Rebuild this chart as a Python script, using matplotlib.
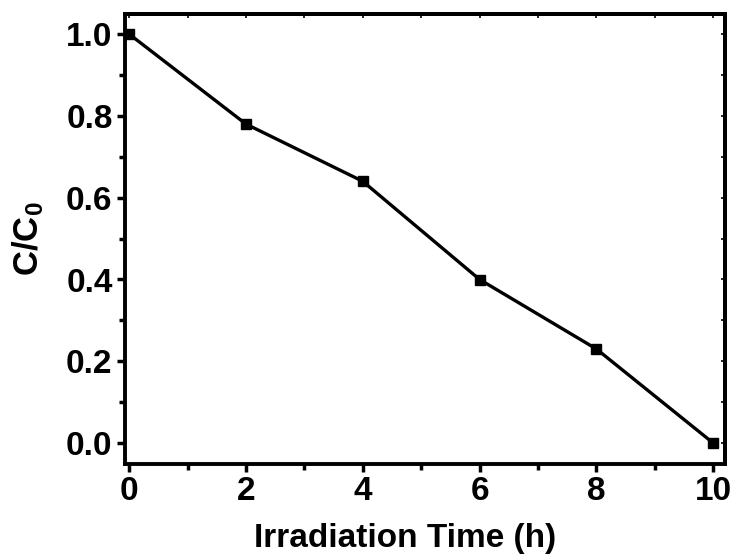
import matplotlib.pyplot as plt
from matplotlib.ticker import MultipleLocator

time_h = [0, 2, 4, 6, 8, 10]
c_over_c0 = [1.0, 0.78, 0.64, 0.40, 0.23, 0.0]

plt.rcParams['font.family'] = ['Liberation Sans', 'DejaVu Sans']
plt.rcParams['font.weight'] = 'bold'
plt.rcParams['mathtext.fontset'] = 'custom'
plt.rcParams['mathtext.bf'] = 'Liberation Sans:bold'
plt.rcParams['mathtext.rm'] = 'Liberation Sans:bold'
plt.rcParams['mathtext.default'] = 'bf'

fig = plt.figure(figsize=(7.36, 5.56), dpi=100)
ax = fig.add_axes([125 / 736, 1 - 464 / 556, 600 / 736, 450 / 556])

ax.plot(time_h, c_over_c0, color='black', lw=2.4, marker='s', ms=6.5, mec='black', mfc='black')

ax.set_xlim(-0.07, 10.2)
ax.set_ylim(-0.051, 1.049)
ax.xaxis.set_major_locator(MultipleLocator(2))
ax.xaxis.set_minor_locator(MultipleLocator(1))
ax.yaxis.set_major_locator(MultipleLocator(0.2))
ax.yaxis.set_minor_locator(MultipleLocator(0.1))
ax.yaxis.set_major_formatter(plt.FormatStrFormatter('%.1f'))

for s in ax.spines.values():
    s.set_linewidth(2.8)

ax.tick_params(which='major', direction='out', length=6, width=2.5, labelsize=24, pad=3)
ax.tick_params(which='minor', direction='out', length=4, width=2.5)

# small inward ticks on the top and right frame
ax_t = ax.secondary_xaxis('top')
ax_t.xaxis.set_major_locator(MultipleLocator(2))
ax_t.xaxis.set_minor_locator(MultipleLocator(1))
ax_t.tick_params(which='both', direction='in', length=3, width=1.2, labeltop=False)
ax_r = ax.secondary_yaxis('right')
ax_r.yaxis.set_major_locator(MultipleLocator(0.2))
ax_r.yaxis.set_minor_locator(MultipleLocator(0.1))
ax_r.tick_params(which='both', direction='in', length=3, width=1.2, labelright=False)
ax_t.spines['top'].set_linewidth(2.8)
ax_r.spines['right'].set_linewidth(2.8)

for lab in ax.get_xticklabels() + ax.get_yticklabels():
    lab.set_fontweight('bold')

ax.set_xlabel('Irradiation Time (h)', fontsize=24, fontweight='bold')
ax.set_ylabel('C/C$_0$', fontsize=25, fontweight='bold')
ax.xaxis.set_label_coords(280 / 600, -0.13)
ax.yaxis.set_label_coords(-0.132, 0.5)

fig.savefig('out.png', dpi=100)
